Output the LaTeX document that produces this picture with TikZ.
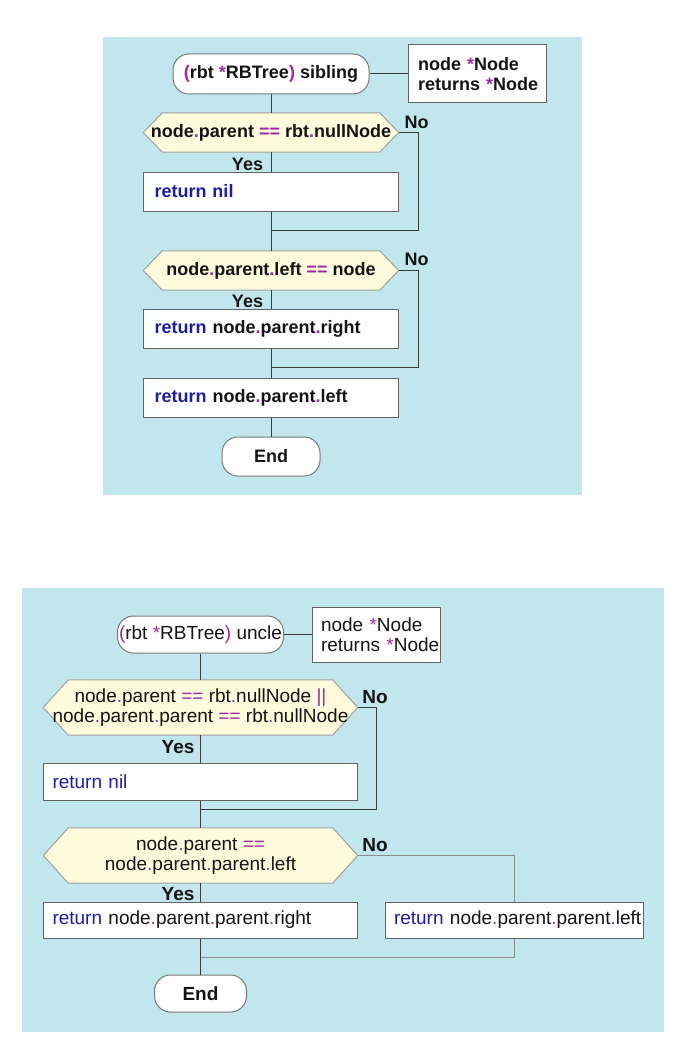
\documentclass[tikz,border=0pt]{standalone}
\usepackage{fontspec}
\setmainfont{Liberation Sans}
\usetikzlibrary{backgrounds}
\definecolor{panelblue}{RGB}{194,230,237}
\definecolor{hexfill}{RGB}{255,251,220}
\definecolor{hexgray}{RGB}{160,160,160}
\definecolor{termgray}{RGB}{120,120,120}
\definecolor{boxgray}{RGB}{100,100,100}
\definecolor{linedark}{RGB}{60,60,60}
\definecolor{linelight}{RGB}{140,140,140}
\definecolor{kwblue}{RGB}{30,30,160}
\definecolor{oppurple}{RGB}{160,40,160}
\definecolor{txtblack}{RGB}{20,20,20}
\newcommand{\opc}[1]{\textcolor{oppurple}{#1}}
\newcommand{\kwc}[1]{\textcolor{kwblue}{#1}}
\newcommand{\hexpath}[2]{\path[hex] (#1.west) -- ([xshift=#2]#1.north west) -- ([xshift=-#2]#1.north east) -- (#1.east) -- ([xshift=-#2]#1.south east) -- ([xshift=#2]#1.south west) -- cycle;}
\begin{document}
\begin{tikzpicture}[x=1pt,y=-1pt,
  topfont/.style={font=\fontsize{18}{20}\selectfont\bfseries},
  botfont/.style={font=\fontsize{19}{20}\selectfont},
  term/.style={draw=termgray, fill=white, rounded corners=16pt, inner sep=0pt, line width=1pt, text=txtblack},
  pbox/.style={draw=boxgray, fill=white, inner ysep=0pt, align=left, line width=1pt, text=txtblack},
  dec/.style={inner sep=0pt, align=center, text=txtblack},
  hex/.style={draw=hexgray, fill=hexfill, line width=1pt},
  conn/.style={draw=linedark, line width=1pt},
  connl/.style={draw=linelight, line width=1pt},
  lbl/.style={inner sep=0pt, text=txtblack}
]
\useasboundingbox (0,0) rectangle (692,1038);
\begin{scope}[on background layer]
  \fill[panelblue] (103,37) rectangle (582,495);
  \fill[panelblue] (22,588) rectangle (664,1032);
\end{scope}

% ---------- top panel ----------
\begin{scope}[topfont]
\node[term, minimum width=196pt, minimum height=40pt] (T1) at (271,74) {\opc{(}rbt \opc{*}RBTree\opc{)} sibling};
\node[pbox, inner xsep=10pt, text width=118pt, minimum height=58pt] (P1) at (477,74) {node~\opc{*}Node\\returns~\opc{*}Node};
\node[dec, minimum width=255pt, minimum height=39pt] (D1) at (271,132.5) {node\opc{.}parent \opc{==} rbt\opc{.}nullNode};
\node[pbox, inner xsep=11pt, text width=233pt, minimum height=39pt] (B1) at (271,191.5) {\kwc{return~nil}};
\node[dec, minimum width=255pt, minimum height=39pt] (D2) at (271,270.5) {node\opc{.}parent\opc{.}left \opc{==} node};
\node[pbox, inner xsep=11pt, text width=233pt, minimum height=39pt] (B2) at (271,328.5) {\kwc{return}~node\opc{.}parent\opc{.}right};
\node[pbox, inner xsep=11pt, text width=233pt, minimum height=39pt] (B3) at (271,397.5) {\kwc{return}~node\opc{.}parent\opc{.}left};
\node[term, minimum width=98pt, minimum height=39pt] (T2) at (271,456.5) {End};
\node[lbl] (N1) at (416.5,122.5) {No};
\node[lbl] (Y1) at (247.5,164) {Yes};
\node[lbl] (N2) at (416.5,259) {No};
\node[lbl] (Y2) at (247.5,301) {Yes};
\end{scope}
\coordinate (M1) at (271,230);
\coordinate (M2) at (271,367);

% ---------- bottom panel ----------
\begin{scope}[botfont]
\node[term, minimum width=166pt, minimum height=37pt] (T3) at (200.5,634.5) {\opc{(}rbt \opc{*}RBTree\opc{)} uncle};
\node[pbox, inner xsep=9pt, text width=110pt, minimum height=55pt] (P2) at (376,634.5) {node~\opc{*}Node\\returns~\opc{*}Node};
\node[dec, minimum width=314pt, minimum height=55pt] (D3) at (200.5,707.5) {node\opc{.}parent \opc{==} rbt\opc{.}nullNode \opc{||}\\node\opc{.}parent\opc{.}parent \opc{==} rbt\opc{.}nullNode};
\node[pbox, inner xsep=9pt, text width=296pt, minimum height=37pt] (B4) at (200.5,781.5) {\kwc{return~nil}};
\node[dec, minimum width=314pt, minimum height=55pt] (D4) at (200.5,855.5) {node\opc{.}parent \opc{==}\\node\opc{.}parent\opc{.}parent\opc{.}left};
\node[pbox, inner xsep=9pt, text width=296pt, minimum height=36pt] (B5) at (200.5,920) {\kwc{return}~node\opc{.}parent\opc{.}parent\opc{.}right};
\node[pbox, inner xsep=9pt, text width=240pt, minimum height=36pt] (B6) at (514,920) {\kwc{return}~node\opc{.}parent\opc{.}parent\opc{.}left};
\node[term, minimum width=92pt, minimum height=37pt, font=\fontsize{19}{20}\selectfont\bfseries] (T4) at (200.5,993.5) {End};
\node[lbl, font=\fontsize{19}{20}\selectfont\bfseries] (N3) at (375,697.5) {No};
\node[lbl, font=\fontsize{19}{20}\selectfont\bfseries] (Y3) at (178,747) {Yes};
\node[lbl, font=\fontsize{19}{20}\selectfont\bfseries] (N4) at (375,845.5) {No};
\node[lbl, font=\fontsize{19}{20}\selectfont\bfseries] (Y4) at (178,894.5) {Yes};
\end{scope}
\coordinate (M3) at (200.5,809);
\coordinate (M4) at (200.5,957);

% hexagons behind the condition texts
\begin{scope}[on background layer]
  \hexpath{D1}{19pt}
  \hexpath{D2}{19pt}
  \hexpath{D3}{25pt}
  \hexpath{D4}{25pt}
\end{scope}

% ---------- connectors, top ----------
\draw[conn] (T1.east) -- (P1.west);
\draw[conn] (T1.south) -- (D1.north);
\draw[conn] (D1.south) -- (B1.north);
\draw[conn] (B1.south) -- (D2.north);
\draw[conn] (D1.east) -- ++(20,0) |- (M1);
\draw[conn] (D2.south) -- (B2.north);
\draw[conn] (B2.south) -- (B3.north);
\draw[conn] (D2.east) -- ++(20,0) |- (M2);
\draw[conn] (B3.south) -- (T2.north);

% ---------- connectors, bottom ----------
\draw[conn] (T3.east) -- (P2.west);
\draw[conn] (T3.south) -- (D3.north);
\draw[conn] (D3.south) -- (B4.north);
\draw[conn] (B4.south) -- (D4.north);
\draw[conn] (D3.east) -- ++(19,0) |- (M3);
\draw[conn] (D4.south) -- (B5.north);
\draw[connl] (D4.east) -| (B6.north);
\draw[conn] (B5.south) -- (T4.north);
\draw[connl] (B6.south) |- (M4);
\end{tikzpicture}
\end{document}
